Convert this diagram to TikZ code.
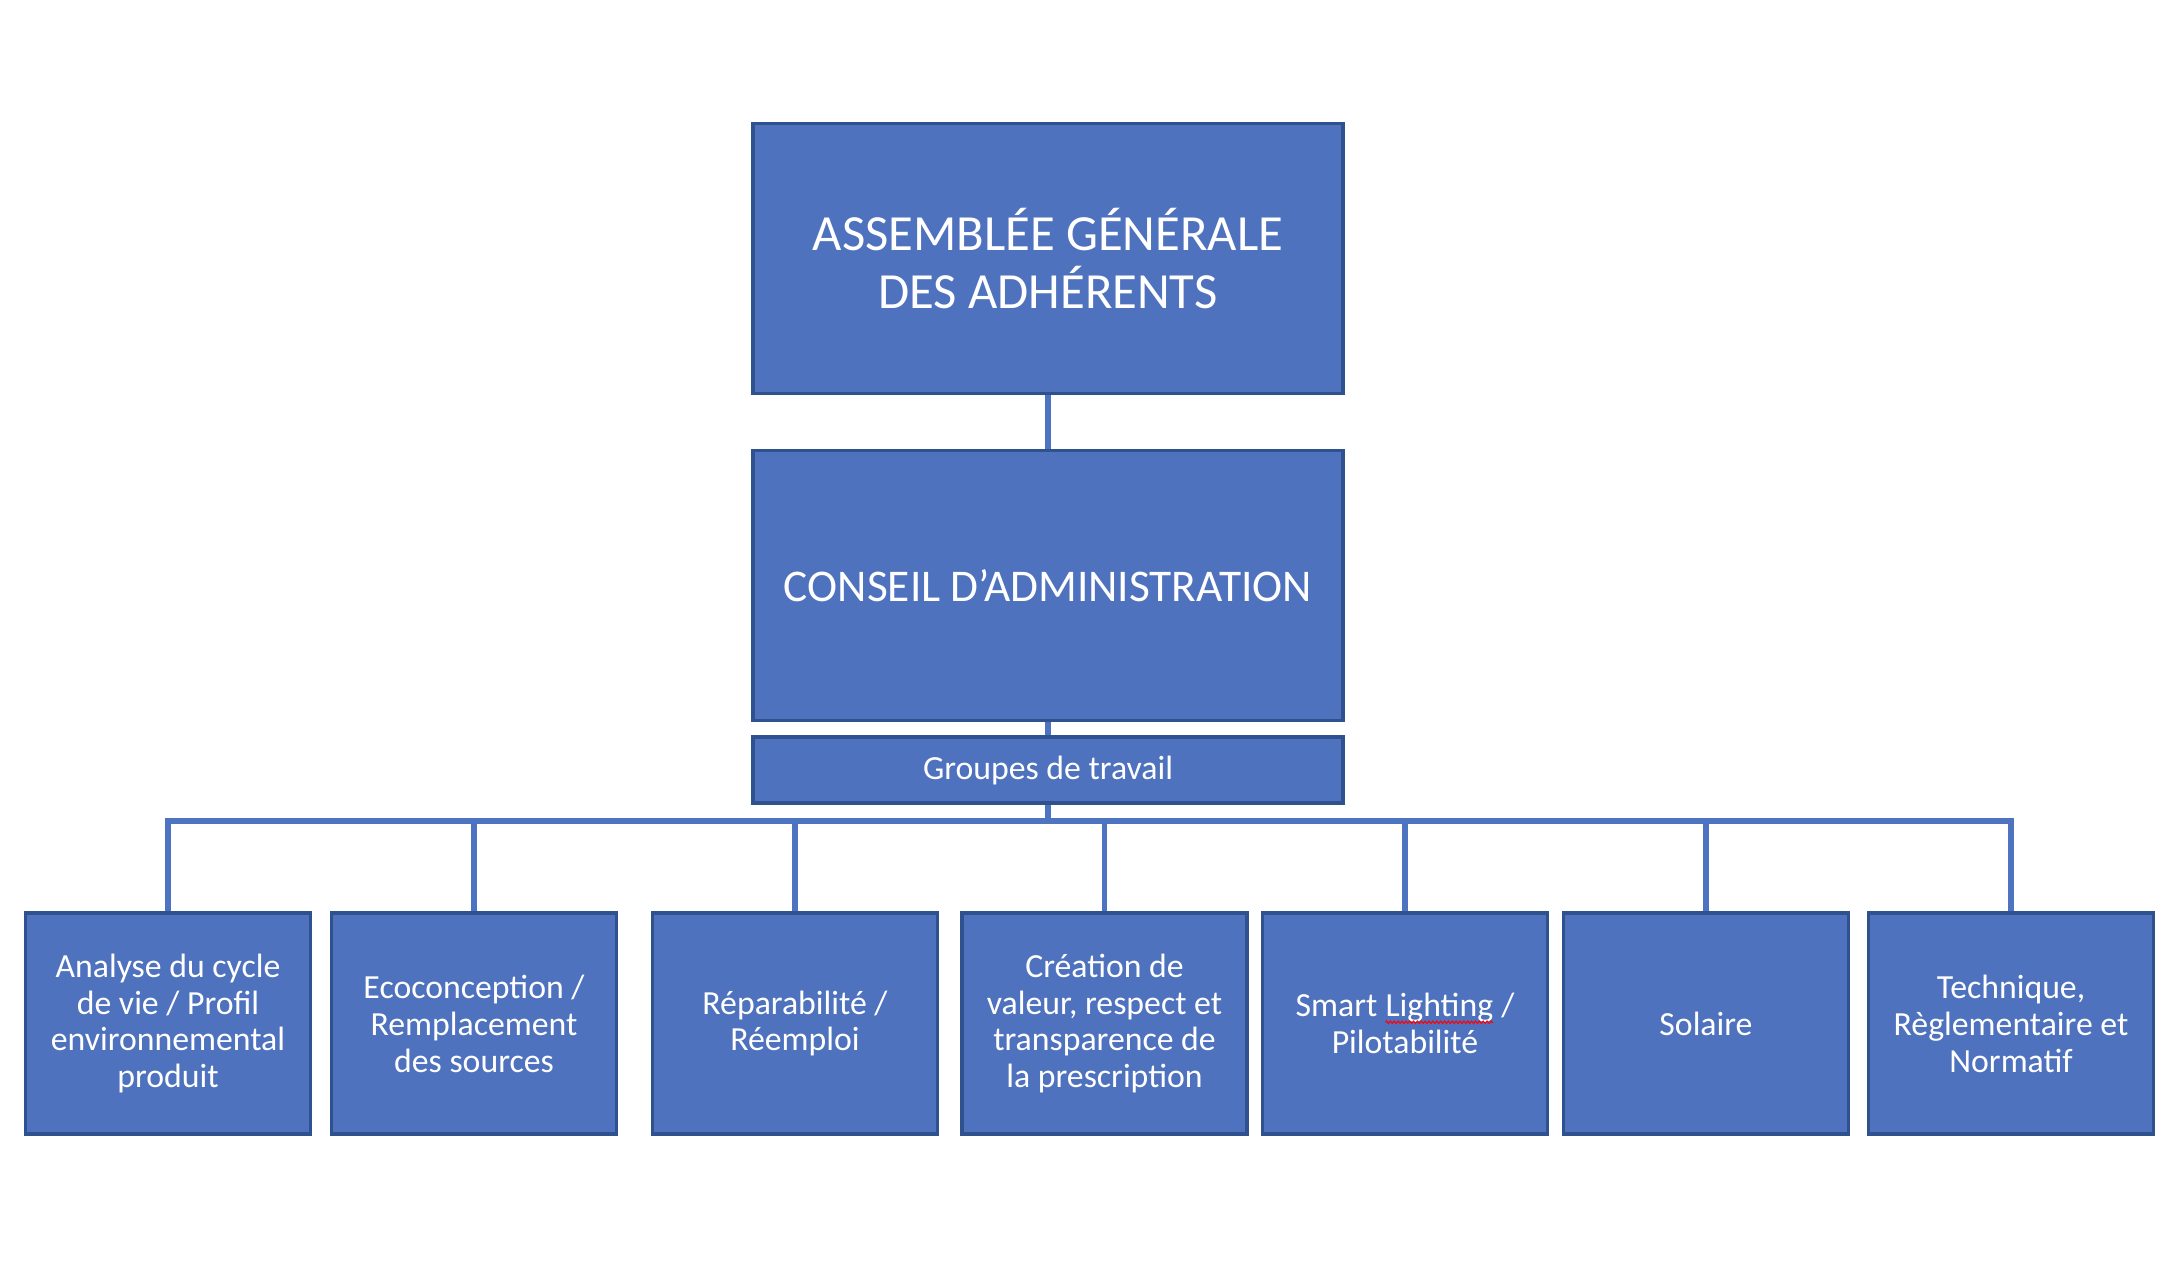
\documentclass[tikz,border=0pt]{standalone}
\usepackage{fontspec}
\setmainfont{Carlito}
\usetikzlibrary{positioning,decorations.pathmorphing}

\definecolor{boxfill}{RGB}{79,114,190}
\definecolor{boxline}{RGB}{47,82,143}
\definecolor{linkblue}{RGB}{78,115,192}

% red spell-check wave under a word
\newcommand\spellwave[1]{\tikz[baseline=(w.base)]{%
  \node [inner sep=0pt, outer sep=0pt, minimum width=0pt, minimum height=0pt,
    draw=none, fill=none, text=white] (w) {#1};%
  \draw [red, line width=0.3pt, decorate,
    decoration={zigzag, segment length=1.1pt, amplitude=0.35pt}]
    ([yshift=-1.6pt]w.base west) -- ([yshift=-1.6pt]w.base east);}}

\tikzset{
  orgbox/.style={draw=boxline, line width=1pt, fill=boxfill, text=white,
    align=center, inner sep=0pt},
  bigbox/.style={orgbox, minimum width=5.9cm, minimum height=2.7cm},
  groupbox/.style={orgbox, minimum width=5.9cm, minimum height=0.66cm,
    font=\fontsize{9.6}{10.5}\selectfont},
  workbox/.style={orgbox, minimum width=2.85cm, minimum height=2.21cm,
    font=\fontsize{9.6}{10.5}\selectfont},
  link/.style={draw=linkblue, line width=1.6pt}
}

\begin{document}
\begin{tikzpicture}[x=0.01cm, y=-0.01cm]
        \fill[white] (0,0) rectangle (2176,1282);
        \useasboundingbox (0,0) rectangle (2176,1282);

        \node [bigbox, font=\fontsize{14.4}{16.6}\selectfont] (ag) at (1048,258.5)
          {ASSEMBLÉE GÉNÉRALE\\DES ADHÉRENTS};
        \node [bigbox, font=\fontsize{12.9}{15}\selectfont] (ca) at (1048,585.5)
          {CONSEIL D’ADMINISTRATION};
        \node [groupbox] (gt) at (1048,770) {Groupes de travail};

        \coordinate (bus) at (1048,821);

        \node [workbox] (acv) at (168,1023.5)
          {Analyse du cycle\\de vie / Profil\\environnemental\\produit};
        \node [workbox] (eco) at (474,1023.5)
          {Ecoconception /\\Remplacement\\des sources};
        \node [workbox] (rep) at (795,1023.5) {Réparabilité /\\Réemploi};
        \node [workbox] (val) at (1104.5,1023.5)
          {Création de\\valeur, respect et\\transparence de\\la prescription};
        \node [workbox] (smart) at (1405,1023.5)
          {Smart \spellwave{Lighting} /\\Pilotabilité};
        \node [workbox] (sol) at (1706,1023.5) {Solaire};
        \node [workbox] (tech) at (2011,1023.5)
          {Technique,\\Règlementaire et\\Normatif};

        \draw [link] (ag.south) -- (ca.north);
        \draw [link] (ca.south) -- (gt.north);
        \draw [link] (gt.south) -- (gt.south |- bus);

        \draw [link] (acv.north) -- (acv.north |- bus) -- (tech.north |- bus) -- (tech.north);
        \draw [link] (eco.north) -- (eco.north |- bus);
        \draw [link] (rep.north) -- (rep.north |- bus);
        \draw [link] (val.north) -- (val.north |- bus);
        \draw [link] (smart.north) -- (smart.north |- bus);
        \draw [link] (sol.north) -- (sol.north |- bus);
      \end{tikzpicture}
\end{document}
